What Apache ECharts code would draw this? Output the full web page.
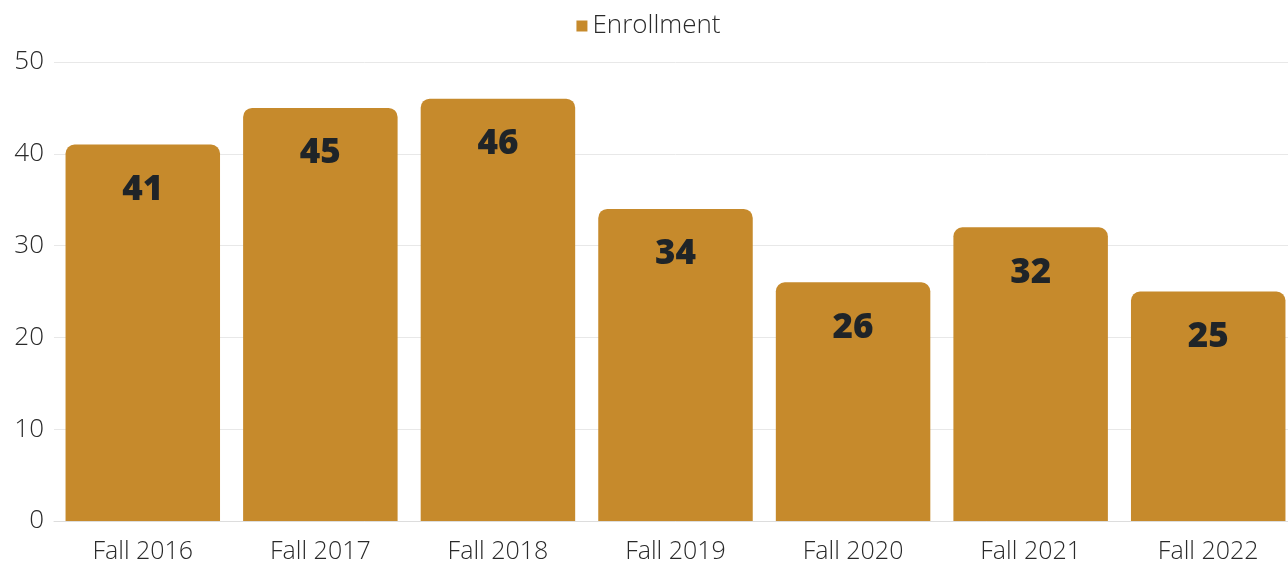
<!DOCTYPE html>
<html>
<head>
<meta charset="utf-8">
<script src="https://cdn.jsdelivr.net/npm/echarts@6/dist/echarts.min.js"></script>
<style>
html,body{margin:0;padding:0;background:#fff;overflow:hidden;width:1288px;height:569px;}
#chart{width:1297px;height:569px;}
</style>
</head>
<body>
<div id="chart"></div>
<script>
const categories = ['Fall 2016','Fall 2017','Fall 2018','Fall 2019','Fall 2020','Fall 2021','Fall 2022'];
const enrollment = [41, 45, 46, 34, 26, 32, 25];
const seriesName = 'Enrollment';

const chart = echarts.init(document.getElementById('chart'));
chart.setOption({
  animation: false,
  backgroundColor: '#ffffff',
  textStyle: { fontFamily: 'Open Sans' },
  legend: {
    top: 8,
    left: 'center',
    itemWidth: 11,
    itemHeight: 11,
    itemGap: 10,
    icon: 'rect',
    textStyle: { fontSize: 26, color: '#2a2a2a', fontFamily: 'Open Sans', fontWeight: 300 },
    data: [seriesName]
  },
  grid: { left: 54, right: 0, top: 62, bottom: 48, containLabel: false },
  xAxis: {
    type: 'category',
    data: categories,
    axisTick: { show: false },
    axisLine: { show: true, lineStyle: { color: '#dddddd' } },
    axisLabel: { fontSize: 25, color: '#2a2a2a', margin: 18, fontFamily: 'Open Sans', fontWeight: 300 }
  },
  yAxis: {
    type: 'value',
    min: 0,
    max: 50,
    interval: 10,
    axisLine: { show: false },
    axisTick: { show: false },
    axisLabel: { fontSize: 26, color: '#2a2a2a', margin: 10, fontFamily: 'Open Sans', fontWeight: 300 },
    splitLine: { lineStyle: { color: '#e8e8e8', width: 1 } }
  },
  series: [{
    name: seriesName,
    type: 'bar',
    data: enrollment,
    barCategoryGap: '13%',
    itemStyle: { color: '#C68A2C', borderRadius: [9, 9, 0, 0] },
    label: {
      show: true,
      position: 'insideTop',
      distance: 28,
      fontSize: 35,
      fontWeight: 800,
      color: '#1f2428',
      fontFamily: 'Open Sans'
    }
  }]
});
</script>
</body>
</html>
